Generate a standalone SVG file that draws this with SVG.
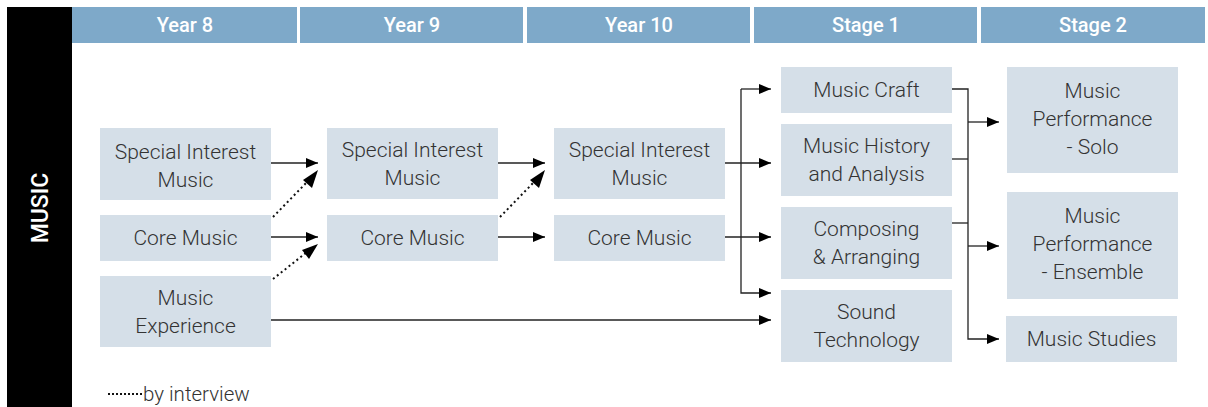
<svg xmlns="http://www.w3.org/2000/svg" width="1208" height="407" viewBox="0 0 1208 407">
<style>
.box{fill:#d5dfe8}
.t{font-family:Roboto,"Liberation Sans",sans-serif;font-weight:300;font-size:21px;fill:#333;text-anchor:middle}
.h{fill:#7ea9c9}
.ht{font-family:Roboto,"Liberation Sans",sans-serif;font-weight:500;font-size:20px;fill:#fff;text-anchor:middle}
.c{fill:none;stroke:#222;stroke-width:1.3}
.d{fill:none;stroke:#111;stroke-width:2;stroke-dasharray:2 3}
</style>
<defs>
<marker id="a" viewBox="0 0 12 10" refX="12" refY="5" markerWidth="12" markerHeight="10" markerUnits="userSpaceOnUse" orient="auto">
<path d="M0,0 L12,5 L0,10 z" fill="#000"/>
</marker>
</defs>
<rect x="7" y="7" width="65" height="400" fill="#000"/>
<text x="0" y="0" transform="translate(48,208) rotate(-90)" font-family="Roboto,'Liberation Sans',sans-serif" font-weight="500" font-size="23" fill="#fff" text-anchor="middle">MUSIC</text>
<g id="headers">
<rect class="h" x="72" y="7" width="225" height="36"/>
<rect class="h" x="300" y="7" width="223" height="36"/>
<rect class="h" x="527" y="7" width="223" height="36"/>
<rect class="h" x="754" y="7" width="223" height="36"/>
<rect class="h" x="981" y="7" width="224" height="36"/>
<text class="ht" x="185" y="32">Year 8</text>
<text class="ht" x="412" y="32">Year 9</text>
<text class="ht" x="639" y="32">Year 10</text>
<text class="ht" x="866" y="32">Stage 1</text>
<text class="ht" x="1093" y="32">Stage 2</text>
</g>
<g id="connectors">
<path class="c" d="M271,163 H318" marker-end="url(#a)"/>
<path class="c" d="M271,237 H318" marker-end="url(#a)"/>
<path class="d" d="M273,217 L309,180"/>
<path d="M318,170 L303,180 L312,188 z" fill="#000"/>
<path class="d" d="M273,279 L307,252"/>
<path d="M318,244 L302,250 L309,259 z" fill="#000"/>
<path class="c" d="M271,320 H771" marker-end="url(#a)"/>
<path class="c" d="M498,163 H545" marker-end="url(#a)"/>
<path class="c" d="M498,237 H545" marker-end="url(#a)"/>
<path class="d" d="M500,217 L536,180"/>
<path d="M545,170 L530,180 L539,188 z" fill="#000"/>
<path class="c" d="M725,163 H771" marker-end="url(#a)"/>
<path class="c" d="M725,237 H771" marker-end="url(#a)"/>
<path class="c" d="M741,89 H771" marker-end="url(#a)"/>
<path class="c" d="M741,89 V293 H771" marker-end="url(#a)"/>
<path class="c" d="M952,89 H968 V339 H999" marker-end="url(#a)"/>
<path class="c" d="M952,159 H968"/>
<path class="c" d="M952,223 H968"/>
<path class="c" d="M968,122 H999" marker-end="url(#a)"/>
<path class="c" d="M968,246 H999" marker-end="url(#a)"/>
</g>
<g id="y8-sim"><rect class="box" x="100" y="128" width="171" height="72"/><text class="t" x="185.5" y="159">Special Interest</text><text class="t" x="185.5" y="187">Music</text></g>
<g id="y8-core"><rect class="box" x="100" y="215" width="171" height="46"/><text class="t" x="185.5" y="245">Core Music</text></g>
<g id="y8-exp"><rect class="box" x="100" y="276" width="171" height="71"/><text class="t" x="185.5" y="305">Music</text><text class="t" x="185.5" y="333">Experience</text></g>
<g id="y9-sim"><rect class="box" x="327" y="128" width="171" height="71"/><text class="t" x="412.5" y="157">Special Interest</text><text class="t" x="412.5" y="185">Music</text></g>
<g id="y9-core"><rect class="box" x="327" y="215" width="171" height="46"/><text class="t" x="412.5" y="245">Core Music</text></g>
<g id="y10-sim"><rect class="box" x="554" y="128" width="171" height="71"/><text class="t" x="639.5" y="157">Special Interest</text><text class="t" x="639.5" y="185">Music</text></g>
<g id="y10-core"><rect class="box" x="554" y="215" width="171" height="46"/><text class="t" x="639.5" y="245">Core Music</text></g>
<g id="s1-craft"><rect class="box" x="781" y="67" width="171" height="46"/><text class="t" x="866.5" y="97">Music Craft</text></g>
<g id="s1-history"><rect class="box" x="781" y="124" width="171" height="72"/><text class="t" x="866.5" y="153">Music History</text><text class="t" x="866.5" y="181">and Analysis</text></g>
<g id="s1-composing"><rect class="box" x="781" y="207" width="171" height="72"/><text class="t" x="866.5" y="236">Composing</text><text class="t" x="866.5" y="264">&amp; Arranging</text></g>
<g id="s1-sound"><rect class="box" x="781" y="290" width="171" height="72"/><text class="t" x="866.5" y="319">Sound</text><text class="t" x="866.5" y="347">Technology</text></g>
<g id="s2-solo"><rect class="box" x="1007" y="67" width="171" height="106"/><text class="t" x="1092.5" y="98">Music</text><text class="t" x="1092.5" y="126">Performance</text><text class="t" x="1092.5" y="154">- Solo</text></g>
<g id="s2-ensemble"><rect class="box" x="1007" y="192" width="171" height="107"/><text class="t" x="1092.5" y="223">Music</text><text class="t" x="1092.5" y="251">Performance</text><text class="t" x="1092.5" y="279">- Ensemble</text></g>
<g id="s2-studies"><rect class="box" x="1006" y="316" width="171" height="46"/><text class="t" x="1091.5" y="346">Music Studies</text></g>
<g id="legend">
<path d="M108,394 H142" stroke="#111" stroke-width="2" stroke-dasharray="2 2"/>
<text x="143" y="401" font-family="Roboto,'Liberation Sans',sans-serif" font-weight="300" font-size="20.5" fill="#333">by interview</text>
</g>
</svg>
